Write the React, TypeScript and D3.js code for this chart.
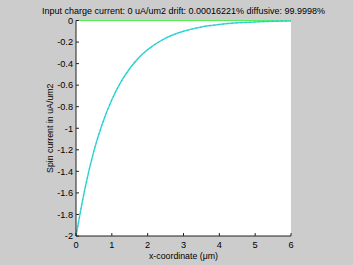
import React from "react";
import * as d3 from "d3";

const xValues = [0, 0.25, 0.5, 0.75, 1, 1.25, 1.5, 1.75, 2, 2.5, 3, 3.5, 4, 4.5, 5, 5.5, 6];
const spinCurrent = [-2, -1.56, -1.21, -0.945, -0.736, -0.573, -0.446, -0.347, -0.271, -0.164, -0.1, -0.06, -0.037, -0.022, -0.013, -0.008, -0.005];
const chargeCurrent = [0, 0];
const chargeX = [0, 6];
const xTicks = [0, 1, 2, 3, 4, 5, 6];
const yTicks = [0, -0.2, -0.4, -0.6, -0.8, -1, -1.2, -1.4, -1.6, -1.8, -2];
const titleText = "Input charge current: 0 uA/um2 drift: 0.00016221% diffusive: 99.9998%";
const xLabel = "x-coordinate (\u03bcm)";
const yLabel = "Spin current in uA/um2";

export default function App() {
  const W = 353, H = 265;
  const left = 76, right = 291, top = 20.5, bottom = 236;
  const x = d3.scaleLinear().domain([0, 6]).range([left, right]);
  const y = d3.scaleLinear().domain([-2, 0]).range([bottom, top]);
  const line = d3.line<number>().x((_, i) => x(xValues[i])).y((d) => y(d)).curve(d3.curveMonotoneX);
  const flat = d3.line<number>().x((_, i) => x(chargeX[i])).y((d) => y(d));
  const font = "'Liberation Sans', Arial, sans-serif";
  const fmt = (v: number) => (v === 0 ? "0" : String(v));
  return (
    <svg width={W} height={H} style={{ position: "absolute", left: 0, top: 0 }}>
      <rect x={0} y={0} width={W} height={H} fill="#cccccc" />
      <rect x={left} y={top} width={right - left} height={bottom - top} fill="#ffffff" />
      <text x={(left + right) / 2} y={14} textAnchor="middle" fontFamily={font} fontSize={9} fill="#000">{titleText}</text>
      <path d={flat(chargeCurrent) || ""} stroke="#55ee55" strokeWidth={1.2} fill="none" />
      <path d={line(spinCurrent) || ""} stroke="#33dddd" strokeWidth={1.5} fill="none" />
      <path d={line(spinCurrent) || ""} stroke="#667788" strokeWidth={0.7} strokeDasharray="1.5,3" strokeOpacity={0.7} fill="none" />
      <line x1={left} y1={top} x2={left} y2={bottom} stroke="#222" strokeWidth={1} />
      <line x1={left} y1={bottom} x2={right} y2={bottom} stroke="#222" strokeWidth={1} />
      {yTicks.map((t) => (
        <g key={"y" + t}>
          <line x1={left} x2={left + 3} y1={y(t)} y2={y(t)} stroke="#222" />
          <text x={left - 3} y={y(t) + 3.3} textAnchor="end" fontFamily={font} fontSize={9.2} fill="#000">{fmt(t)}</text>
        </g>
      ))}
      {xTicks.map((t) => (
        <g key={"x" + t}>
          <line x1={x(t)} x2={x(t)} y1={bottom} y2={bottom - 3} stroke="#222" />
          <text x={x(t)} y={bottom + 11.5} textAnchor="middle" fontFamily={font} fontSize={9.2} fill="#000">{t}</text>
        </g>
      ))}
      <text x={(left + right) / 2} y={258.5} textAnchor="middle" fontFamily={font} fontSize={8.8} fill="#000">{xLabel}</text>
      <text transform={`translate(53,${(top + bottom) / 2}) rotate(-90)`} textAnchor="middle" fontFamily={font} fontSize={8.8} fill="#000">{yLabel}</text>
    </svg>
  );
}
